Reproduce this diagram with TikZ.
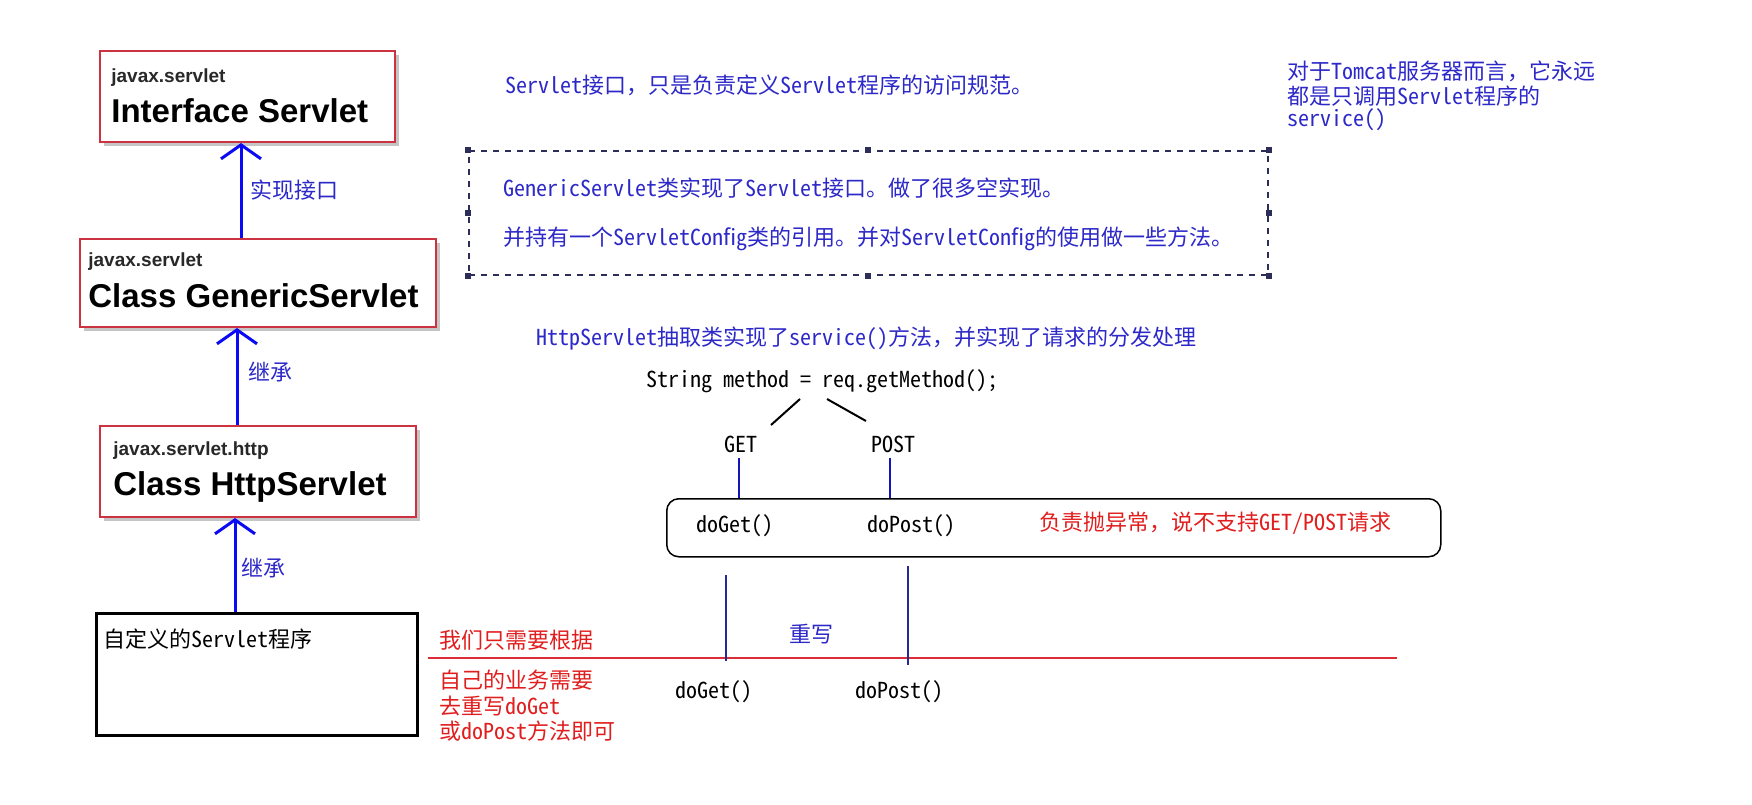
\documentclass[tikz,border=0pt]{standalone}
\usepackage{fontspec}
\setmainfont{Noto Sans CJK SC}[RawFeature=+hwid]
\newfontfamily\fwfont{Noto Sans CJK SC}
\newcommand{\fwc}{{\fwfont ，}}
\newfontfamily\arialf{Liberation Sans}
\usetikzlibrary{arrows.meta,shadows}
\definecolor{txtblue}{RGB}{45,40,200}
\definecolor{arrblue}{RGB}{10,10,245}
\definecolor{lineblue}{RGB}{20,20,190}
\definecolor{navyline}{RGB}{40,40,150}
\definecolor{boxred}{RGB}{205,50,65}
\definecolor{txtred}{RGB}{225,30,30}
\definecolor{linered}{RGB}{220,45,55}
\definecolor{dashnavy}{RGB}{45,45,90}
\definecolor{pkggray}{RGB}{40,40,40}
\begin{document}
\begin{tikzpicture}[x=0.5pt,y=-0.5pt,
  jbox/.style={draw=boxred, line width=1pt, fill=white, inner sep=0, anchor=north west,
    drop shadow={shadow xshift=2pt, shadow yshift=-2pt, fill=black!45, opacity=0.5}},
  pkg/.style={font=\arialf\bfseries\fontsize{9.5}{11}\selectfont, text=pkggray, anchor=base west, inner sep=0},
  cls/.style={font=\arialf\bfseries\fontsize{16.5}{19}\selectfont, anchor=base west, inner sep=0},
  cn/.style={font=\fontsize{11}{13}\selectfont, anchor=base west, inner sep=0},
  cnc/.style={cn, anchor=base},
  bluetxt/.style={cn, text=txtblue},
  redtxt/.style={cn, text=txtred},
  inh/.style={draw=arrblue, line width=1.5pt, -{Straight Barb[length=7pt, width=20pt, line width=1.5pt]}},
  vlink/.style={draw=lineblue, line width=1pt},
  vlow/.style={draw=navyline, line width=0.8pt},
  slash/.style={draw=black, line width=1pt},
]
\useasboundingbox[fill=white] (0,0) rectangle (1752,804);

% class boxes
\node[jbox, minimum width=147.5pt, minimum height=45.5pt] (b1) at (99,50) {};
\node[jbox, minimum width=178pt, minimum height=44pt] (b2) at (79,238) {};
\node[jbox, minimum width=158pt, minimum height=45.5pt] (b3) at (99,425) {};
\node[draw=black, line width=1.5pt, inner sep=0, anchor=north west, minimum width=160.5pt, minimum height=61pt] (b4) at (95,612) {};

\node[pkg] (p1) at (111,82) {javax.servlet};
\node[cls] (c1) at (111,122) {Interface Servlet};
\node[pkg] (p2) at (88,266) {javax.servlet};
\node[cls] (c2) at (88,307) {Class GenericServlet};
\node[pkg] (p3) at (113,455) {javax.servlet.http};
\node[cls] (c3) at (113,495) {Class HttpServlet};
\node[cn] (t4) at (103,647) {自定义的Servlet程序};

% inheritance arrows
\coordinate (ax1) at (241,0);
\coordinate (ax2) at (237,0);
\coordinate (ax3) at (235,0);
\draw[inh] (b2.north -| ax1) -- (b1.south -| ax1);
\draw[inh] (b3.north -| ax2) -- (b2.south -| ax2);
\draw[inh] (b4.north -| ax3) -- (b3.south -| ax3);
\node[bluetxt] (l1) at (250,198) {实现接口};
\node[bluetxt] (l2) at (248,380) {继承};
\node[bluetxt] (l3) at (241,576) {继承};

% top notes
\node[bluetxt] (n1) at (505,93) {Servlet接口\fwc 只是负责定义Servlet程序的访问规范。};
\node[draw=dashnavy, line width=0.75pt, dashed, inner sep=0, anchor=north west, minimum width=399.5pt, minimum height=62pt] (db) at (468,150) {};
\foreach \a in {north west, north, north east, west, east, south west, south, south east}
  \fill[dashnavy] ([shift={(-3,-3)}]db.\a) rectangle ([shift={(3,3)}]db.\a);
\node[bluetxt] (g1) at (503,196) {GenericServlet类实现了Servlet接口。做了很多空实现。};
\node[bluetxt] (g2) at (503,245) {并持有一个ServletConfig类的引用。并对ServletConfig的使用做一些方法。};
\node[bluetxt] (r1) at (1287,79) {对于Tomcat服务器而言\fwc 它永远};
\node[bluetxt] (r2) at (1287,104) {都是只调用Servlet程序的};
\node[bluetxt] (r3) at (1287,126) {service()};

% HttpServlet dispatch
\node[bluetxt] (h1) at (536,345) {HttpServlet抽取类实现了service()方法\fwc 并实现了请求的分发处理};
\node[cn] (sm) at (646,387) {String method = req.getMethod();};
\node[cnc] (get) at (741,452) {GET};
\node[cnc] (post) at (893,452) {POST};
\coordinate (s1a) at (800,399);
\coordinate (s1b) at (771,425);
\coordinate (s2a) at (827,399);
\coordinate (s2b) at (866,421);
\draw[slash] (s1a) -- (s1b);
\draw[slash] (s2a) -- (s2b);

\node[draw=black, line width=0.75pt, rounded corners=6pt, inner sep=0, anchor=north west, minimum width=387pt, minimum height=29pt] (rb) at (666,498) {};
\coordinate (gx) at (739,458);
\coordinate (px) at (890,458);
\draw[vlink] (gx) -- (gx |- rb.north);
\draw[vlink] (px) -- (px |- rb.north);
\node[cn] (dg1) at (696,532) {doGet()};
\node[cn] (dp1) at (867,532) {doPost()};
\node[redtxt] (ex) at (1039,530) {负责抛异常\fwc 说不支持GET/POST请求};

% overriding
\coordinate (ra) at (428,658);
\coordinate (rz) at (1397,658);
\draw[draw=linered, line width=0.75pt] (ra) -- (rz);
\coordinate (lg1) at (726,575);
\coordinate (lg2) at (726,661);
\coordinate (lp1) at (908,566);
\coordinate (lp2) at (908,665);
\draw[vlow] (lg1) -- (lg2);
\draw[vlow] (lp1) -- (lp2);
\node[redtxt] (w1) at (439,648) {我们只需要根据};
\node[bluetxt] (cx) at (789,642) {重写};
\node[redtxt] (w2) at (439,688) {自己的业务需要};
\node[redtxt] (w3) at (439,714) {去重写doGet};
\node[redtxt] (w4) at (439,739) {或doPost方法即可};
\node[cn] (dg2) at (675,698) {doGet()};
\node[cn] (dp2) at (855,698) {doPost()};
\end{tikzpicture}
\end{document}
